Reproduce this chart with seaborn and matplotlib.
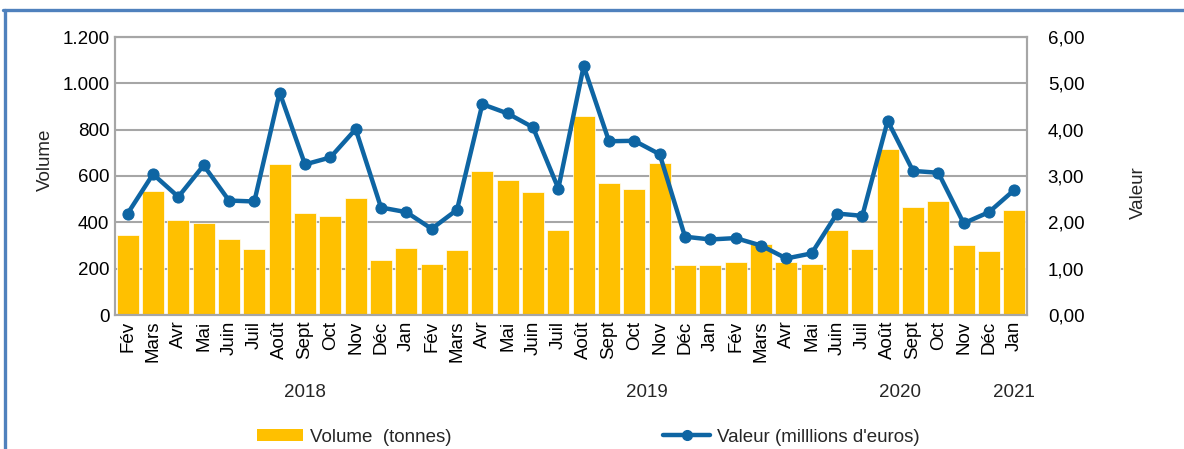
import numpy as np
import pandas as pd
import seaborn as sns
import matplotlib.pyplot as plt
from matplotlib.lines import Line2D
from matplotlib.patches import Patch
from matplotlib.ticker import FuncFormatter

# --- Données ---
mois = ['Fév', 'Mars', 'Avr', 'Mai', 'Juin', 'Juil', 'Août', 'Sept', 'Oct', 'Nov', 'Déc',
        'Jan', 'Fév', 'Mars', 'Avr', 'Mai', 'Juin', 'Juil', 'Août', 'Sept', 'Oct', 'Nov', 'Déc',
        'Jan', 'Fév', 'Mars', 'Avr', 'Mai', 'Juin', 'Juil', 'Août', 'Sept', 'Oct', 'Nov', 'Déc',
        'Jan']
volume = [345, 535, 410, 396, 327, 286, 650, 442, 427, 504, 236,
          291, 219, 282, 622, 583, 530, 367, 861, 568, 545, 656, 216,
          217, 230, 308, 229, 222, 368, 285, 718, 465, 492, 304, 276,
          455]
valeur = [2.19, 3.04, 2.55, 3.23, 2.47, 2.45, 4.80, 3.25, 3.40, 4.01, 2.32,
          2.22, 1.86, 2.27, 4.55, 4.35, 4.05, 2.73, 5.37, 3.75, 3.76, 3.47, 1.69,
          1.63, 1.66, 1.50, 1.22, 1.33, 2.19, 2.14, 4.19, 3.11, 3.07, 1.98, 2.22,
          2.70]
annees = ['2018', '2019', '2020', '2021']
annees_pos = [7.0, 20.5, 30.5, 35.0]

dados = pd.DataFrame({'idx': range(len(mois)), 'mois': mois,
                      'volume': volume, 'valeur': valeur})

jaune = '#FFC000'
bleu = '#0E65A3'
gris = '#A6A6A6'
fs = 13.5

sns.set_style('white')
plt.rcParams['font.family'] = ['Liberation Sans', 'DejaVu Sans']

fig = plt.figure(figsize=(11.84, 4.49), dpi=100)
ax = fig.add_axes([115 / 1184, 1 - 315 / 449, (1027 - 115) / 1184, (315 - 37) / 449])

# --- Barres : volume ---
sns.barplot(data=dados, x='idx', y='volume', color=jaune, saturation=1,
            width=0.86, edgecolor='white', linewidth=0.5, ax=ax, zorder=2)
ax.set_ylim(0, 1200)
ax.set_yticks(range(0, 1201, 200))
ax.yaxis.set_major_formatter(FuncFormatter(lambda v, p: f'{int(v):,}'.replace(',', '.')))
ax.set_xlim(-0.5, len(mois) - 0.5)
ax.set_xticks(range(len(mois)))
ax.set_xticklabels(mois, rotation=90)
ax.grid(axis='y', color=gris, linewidth=1.5, zorder=0)
ax.set_axisbelow(True)
ax.set_xlabel('')
ax.set_ylabel('')
ax.tick_params(length=0, labelsize=fs, colors='black', pad=4)
for s in ax.spines.values():
    s.set_color(gris)
    s.set_linewidth(1.5)

# --- Ligne : valeur ---
ax2 = ax.twinx()
sns.lineplot(data=dados, x='idx', y='valeur', color=bleu, linewidth=3.2,
             marker='o', markersize=8, markeredgecolor=bleu, ax=ax2, zorder=3)
ax2.set_ylim(0, 6)
ax2.set_yticks(np.arange(0, 6.01, 1))
ax2.yaxis.set_major_formatter(FuncFormatter(lambda v, p: f'{v:.2f}'.replace('.', ',')))
ax2.set_xlim(-0.5, len(mois) - 0.5)
ax2.set_xlabel('')
ax2.set_ylabel('')
ax2.tick_params(length=0, labelsize=fs, colors='black', pad=15)
for s in ax2.spines.values():
    s.set_color(gris)
    s.set_linewidth(1.5)

# --- Années ---
for a, x in zip(annees, annees_pos):
    ax.text(x, -0.28, a, transform=ax.get_xaxis_transform(), ha='center', va='center', fontsize=fs)

# --- Titres des axes ---
fig.text(45 / 1184, 1 - 160 / 449, 'Volume', rotation=90, ha='center', va='center', fontsize=fs)
fig.text(1138 / 1184, 1 - 193 / 449, 'Valeur', rotation=90, ha='center', va='center', fontsize=fs)

# --- Légende ---
handles = [Patch(facecolor=jaune, edgecolor='none'),
           Line2D([0], [0], color=bleu, linewidth=3.2, marker='o', markersize=7)]
fig.legend(handles, ['Volume  (tonnes)', "Valeur (milllions d'euros)"],
           loc='center', bbox_to_anchor=(588 / 1184, 1 - 437 / 449), ncol=2,
           frameon=False, fontsize=fs, handlelength=2.5, handletextpad=0.35,
           columnspacing=11.3, handleheight=0.6)

# --- Cadre ---
fig.add_artist(Line2D([4.5 / 1184, 4.5 / 1184], [0, 1 - 9.5 / 449], color='#4F81BD',
                      linewidth=2.4, transform=fig.transFigure))
fig.add_artist(Line2D([3 / 1184, 1], [1 - 9.5 / 449, 1 - 9.5 / 449], color='#4F81BD',
                      linewidth=2.4, transform=fig.transFigure))

fig.savefig('out.png', dpi=100)
